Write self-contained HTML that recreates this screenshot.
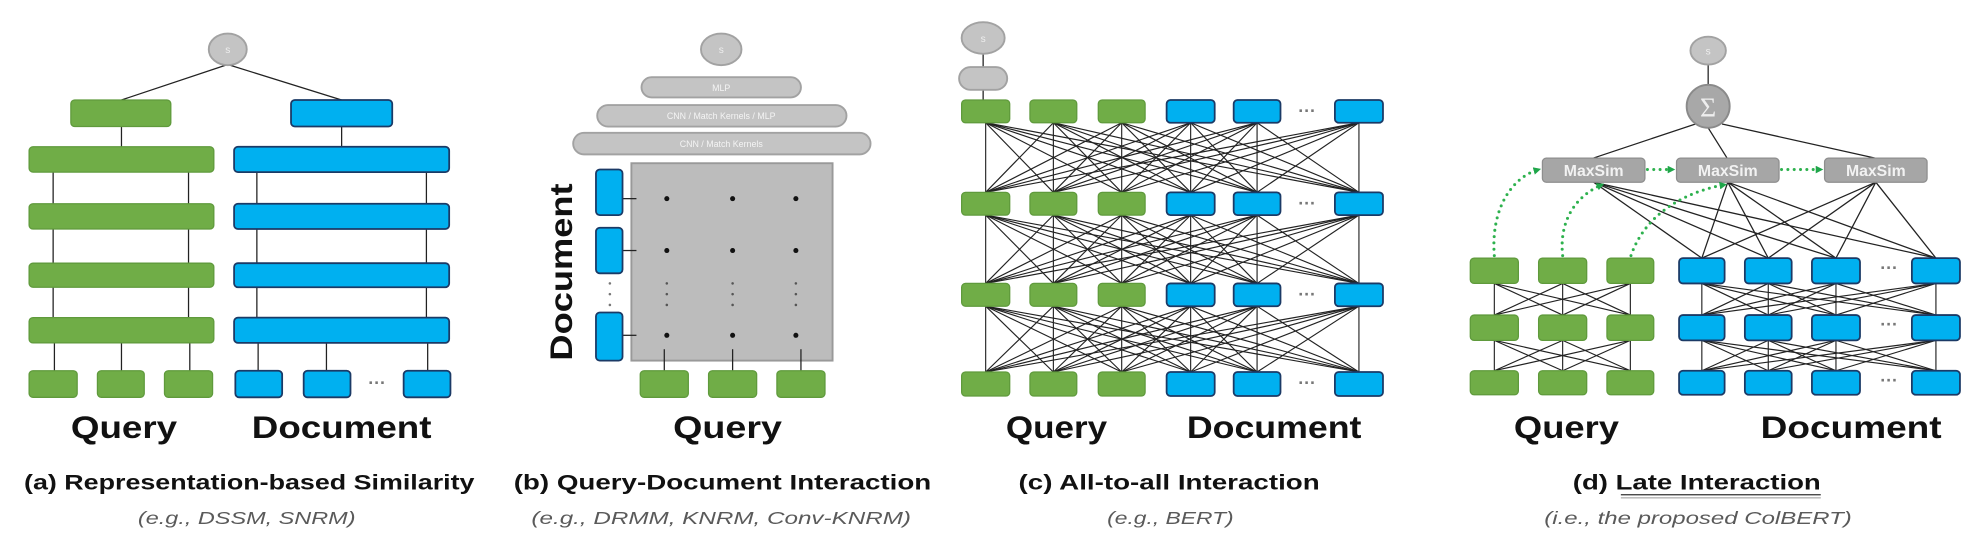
<!DOCTYPE html>
<html><head><meta charset="utf-8"><style>
html,body{margin:0;padding:0;background:#fff;}
svg{display:block;font-family:"Liberation Sans",Arial,sans-serif;}
.lbl{font-weight:bold;font-size:25px;fill:#111;}
.cap{font-size:16.5px;fill:#111;font-weight:bold;}
.sub{font-size:14px;fill:#5a5a5a;font-style:italic;}
.pt{font-size:7px;fill:#f4f4f4;}
</style></head><body>
<svg id="s" width="1984" height="558" viewBox="0 0 1568 441" xmlns="http://www.w3.org/2000/svg">
<defs>
<marker id="ga" markerWidth="6" markerHeight="6" refX="4" refY="3" orient="auto" markerUnits="userSpaceOnUse"><path d="M0,0 L6,3 L0,6 z" fill="#1fa64a"/></marker>
</defs>
<g id="g"></g>
<!-- panel a labels -->
<text class="lbl" x="98" y="346" text-anchor="middle" textLength="84" lengthAdjust="spacingAndGlyphs">Query</text>
<text class="lbl" x="270" y="346" text-anchor="middle" textLength="142" lengthAdjust="spacingAndGlyphs">Document</text>
<text class="cap" x="197" y="387" text-anchor="middle" textLength="356" lengthAdjust="spacingAndGlyphs">(a) Representation-based Similarity</text>
<text class="sub" x="195" y="414" text-anchor="middle" textLength="172" lengthAdjust="spacingAndGlyphs">(e.g., DSSM, SNRM)</text>
<!-- panel b labels -->
<text class="lbl" x="575" y="346" text-anchor="middle" textLength="86" lengthAdjust="spacingAndGlyphs">Query</text>
<text class="lbl" transform="translate(452,215) rotate(-90)" x="0" y="0" text-anchor="middle" textLength="140" lengthAdjust="spacingAndGlyphs">Document</text>
<text class="cap" x="571" y="387" text-anchor="middle" textLength="330" lengthAdjust="spacingAndGlyphs">(b) Query-Document Interaction</text>
<text class="sub" x="570" y="414" text-anchor="middle" textLength="300" lengthAdjust="spacingAndGlyphs">(e.g., DRMM, KNRM, Conv-KNRM)</text>
<!-- panel c labels -->
<text class="lbl" x="835" y="346" text-anchor="middle" textLength="80" lengthAdjust="spacingAndGlyphs">Query</text>
<text class="lbl" x="1007" y="346" text-anchor="middle" textLength="138" lengthAdjust="spacingAndGlyphs">Document</text>
<text class="cap" x="924" y="387" text-anchor="middle" textLength="238" lengthAdjust="spacingAndGlyphs">(c) All-to-all Interaction</text>
<text class="sub" x="925" y="414" text-anchor="middle" textLength="100" lengthAdjust="spacingAndGlyphs">(e.g., BERT)</text>
<!-- panel d labels -->
<text class="lbl" x="1238" y="346" text-anchor="middle" textLength="83" lengthAdjust="spacingAndGlyphs">Query</text>
<text class="lbl" x="1463" y="346" text-anchor="middle" textLength="143" lengthAdjust="spacingAndGlyphs">Document</text>
<text class="cap" x="1341" y="387" text-anchor="middle" textLength="196" lengthAdjust="spacingAndGlyphs">(d) Late Interaction</text>
<line x1="1281" y1="391" x2="1439" y2="391" stroke="#333" stroke-width="1"/>
<line x1="1281" y1="393.5" x2="1439" y2="393.5" stroke="#999" stroke-width="0.8"/>
<text class="sub" x="1342" y="414" text-anchor="middle" textLength="243" lengthAdjust="spacingAndGlyphs">(i.e., the proposed ColBERT)</text>
<!-- gray nodes text -->
<text class="pt" x="570" y="72" text-anchor="middle">MLP</text>
<text class="pt" x="570" y="94" text-anchor="middle">CNN  /  Match Kernels / MLP</text>
<text class="pt" x="570" y="116" text-anchor="middle">CNN  /  Match Kernels</text>
</svg>
<script>
var G=document.getElementById('g'),NS='http://www.w3.org/2000/svg';
function el(t,a,txt){var e=document.createElementNS(NS,t);for(var k in a)e.setAttribute(k,a[k]);if(txt)e.textContent=txt;G.appendChild(e);return e;}
function L(x1,y1,x2,y2,w,c){el('line',{x1:x1,y1:y1,x2:x2,y2:y2,stroke:c||'#222','stroke-width':w||1});}
function R(x1,y1,x2,y2,col){var gr=col=='g';el('rect',{x:x1,y:y1,width:x2-x1,height:y2-y1,rx:3,fill:gr?'#70ad47':'#00b0f0',stroke:gr?'#5f9a3c':'#1b3a66','stroke-width':gr?1:1.4});}
function dots(x,y){el('text',{x:x,y:y,'text-anchor':'middle','font-size':'14',fill:'#777','font-weight':'bold'},'···');}
function vdots(x,y1,y2,c){for(var y=y1;y<=y2;y+=(y2-y1)/2)el('circle',{cx:x,cy:y,r:1,fill:c||'#777'});}
function S(cx,cy,rx,ry){el('ellipse',{cx:cx,cy:cy,rx:rx,ry:ry,fill:'#c4c4c4',stroke:'#a2a2a2','stroke-width':1.5});el('text',{x:cx,y:cy+3,'text-anchor':'middle','font-size':'8',fill:'#eee'},'s');}
function pill(x1,y1,x2,y2){el('rect',{x:x1,y:y1,width:x2-x1,height:y2-y1,rx:(y2-y1)/2,fill:'#c4c4c4',stroke:'#a2a2a2','stroke-width':1.5});}

/* ---------- panel a ---------- */
L(180,51,96,79);L(180,51,270,79);
S(180,39,15,12.5);
L(96,100,96,116);L(270,100,270,116);
var rows=[[116,136],[161,181],[208,227],[251,271]];
for(var i=0;i<3;i++){L(42,rows[i][1],42,rows[i+1][0]);L(149,rows[i][1],149,rows[i+1][0]);L(203,rows[i][1],203,rows[i+1][0]);L(337,rows[i][1],337,rows[i+1][0]);}
[43,96,150].forEach(function(x){L(x,271,x,293)});[204,258,338].forEach(function(x){L(x,271,x,293)});
R(56,79,135,100,'g');R(230,79,310,100,'b');
rows.forEach(function(r){R(23,r[0],169,r[1],'g');R(185,r[0],355,r[1],'b');});
[[23,61],[77,114],[130,168]].forEach(function(p){R(p[0],293,p[1],314,'g')});
[[186,223],[240,277],[319,356]].forEach(function(p){R(p[0],293,p[1],314,'b')});
dots(298,307);

/* ---------- panel b ---------- */
S(570,39,16,12.5);
pill(507,61,633,77);pill(472,83,669,100);pill(453,105,688,122);
el('rect',{x:499,y:129,width:159,height:156,fill:'#bcbcbc',stroke:'#999','stroke-width':1.5});
[157,198,265].forEach(function(y){L(492,y,503,y);[527,579,629].forEach(function(x){el('circle',{cx:x,cy:y,r:2,fill:'#111'})});});
[527,579,629].forEach(function(x){vdots(x,224,241,'#555')});
vdots(482,224,241,'#777');
[[134,170],[180,216],[247,285]].forEach(function(p){R(471,p[0],492,p[1],'b')});
[[506,544],[560,598],[614,652]].forEach(function(p){L((p[0]+p[1])/2,276,(p[0]+p[1])/2,293);R(p[0],293,p[1],314,'g')});

/* ---------- panel c ---------- */
var cx=[[760,798,'g'],[814,851,'g'],[868,905,'g'],[922,960,'b'],[975,1012,'b'],[1055,1093,'b']];
var cr=[[79,97],[152,170],[224,242],[294,313]];
for(var r=0;r<3;r++){for(var a=0;a<6;a++)for(var b=0;b<6;b++){L((cx[a][0]+cx[a][1])/2,cr[r][1],(cx[b][0]+cx[b][1])/2,cr[r+1][0],0.9);}}
L(777,42,777,53);L(777,71,777,79);
S(777,30,17,12.5);pill(758,53,796,71);
cr.forEach(function(r){cx.forEach(function(c){R(c[0],r[0],c[1],r[1],c[2])});dots(1033,r[0]+13);});

/* ---------- panel d ---------- */
var qx=[[1162,1200],[1216,1254],[1270,1307]];
var bx=[[1327,1363],[1379,1416],[1432,1470],[1511,1549]];
var dr=[[204,224],[249,269],[293,312]];
var ms=[[1219,1300],[1325,1406],[1442,1523]];
function c(p){return (p[0]+p[1])/2;}
for(var r=0;r<2;r++){
 for(var a=0;a<3;a++)for(var b=0;b<3;b++)L(c(qx[a]),dr[r][1],c(qx[b]),dr[r+1][0],0.9);
 for(var a=0;a<4;a++)for(var b=0;b<4;b++)L(c(bx[a]),dr[r][1],c(bx[b]),dr[r+1][0],0.9);
}
ms.forEach(function(m){bx.forEach(function(b){L(c(m),144,c(b),204,1)});});
L(1259,125,1340,98);L(1365,125,1350,101);L(1482,125,1361,98);
L(1350,51,1350,68);
S(1350,40,14,11);
el('circle',{cx:1350,cy:84,r:17,fill:'#a8a8a8',stroke:'#8a8a8a','stroke-width':1.5});
el('text',{x:1350,y:92,'text-anchor':'middle','font-size':'22',fill:'#eee','font-family':'Liberation Serif, serif'},'Σ');
ms.forEach(function(m){el('rect',{x:m[0],y:125,width:m[1]-m[0],height:19,rx:3,fill:'#a6a6a6',stroke:'#8e8e8e','stroke-width':1});
 el('text',{x:c(m),y:139,'text-anchor':'middle','font-size':'12.5',fill:'#f2f2f2','font-weight':'bold'},'MaxSim');});
dr.forEach(function(r){qx.forEach(function(p){R(p[0],r[0],p[1],r[1],'g')});bx.forEach(function(p){R(p[0],r[0],p[1],r[1],'b')});dots(1493,r[0]+12);});
var ds={fill:'none',stroke:'#2db14d','stroke-width':2.4,'stroke-linecap':'round','stroke-dasharray':'0 5','marker-end':'url(#ga)'};
function P(d){var o={};for(var k in ds)o[k]=ds[k];o.d=d;el('path',o);}
P('M1181,202 C1178,165 1195,140 1216,134');
P('M1235,202 C1232,175 1245,155 1266,146');
P('M1289,202 C1300,170 1330,152 1363,146');
P('M1302,134 L1322,134');
P('M1408,134 L1439,134');
var s=document.getElementById('s');
s.querySelectorAll('.pt').forEach(function(t){s.appendChild(t)});
</script>
</body></html>
